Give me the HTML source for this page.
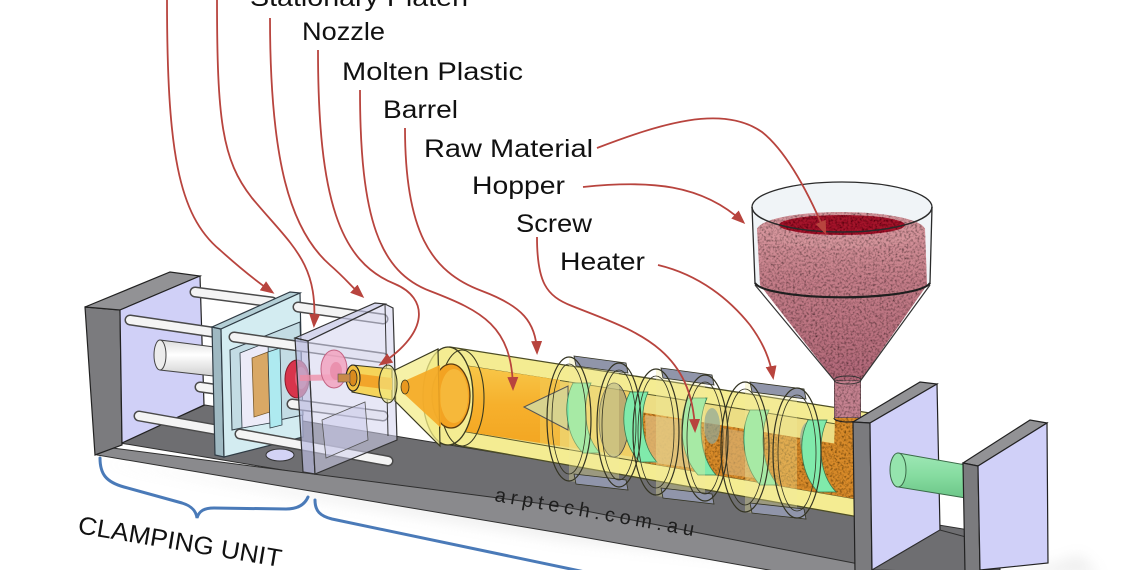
<!DOCTYPE html>
<html>
<head>
<meta charset="utf-8">
<style>
html,body{margin:0;padding:0;background:#ffffff;}
svg{display:block;}
</style>
</head>
<body>
<svg width="1140" height="570" viewBox="0 0 1140 570" xmlns="http://www.w3.org/2000/svg">
<defs>
  <marker id="ah" markerWidth="14" markerHeight="11" refX="11" refY="5.5" orient="auto" markerUnits="userSpaceOnUse">
    <path d="M0,0 L14,5.5 L0,11 Z" fill="#b8443e"/>
  </marker>
  <filter id="grain" x="0" y="0" width="100%" height="100%">
    <feTurbulence type="fractalNoise" baseFrequency="0.45" numOctaves="2" seed="5" result="n"/>
    <feColorMatrix in="n" type="matrix" values="0 0 0 0 0  0 0 0 0 0  0 0 0 0 0  0 0 0 -1.8 1.05" result="d"/>
    <feComposite in="d" in2="SourceGraphic" operator="in" result="t"/>
    <feMerge><feMergeNode in="SourceGraphic"/><feMergeNode in="t"/></feMerge>
  </filter>
  <filter id="blur6" x="-20%" y="-50%" width="140%" height="200%">
    <feGaussianBlur stdDeviation="7"/>
  </filter>
  <linearGradient id="pinkG" x1="0" y1="0" x2="0" y2="1">
    <stop offset="0" stop-color="#d6959c"/>
    <stop offset="0.35" stop-color="#c47d88"/>
    <stop offset="1" stop-color="#b16878"/>
  </linearGradient>
  <linearGradient id="moltenG" x1="0" y1="0" x2="0" y2="1">
    <stop offset="0" stop-color="#f8c84a"/>
    <stop offset="0.5" stop-color="#f6b02c"/>
    <stop offset="1" stop-color="#f3a622"/>
  </linearGradient>
  <linearGradient id="greenRod" x1="0" y1="0" x2="0" y2="1">
    <stop offset="0" stop-color="#9fe8b6"/>
    <stop offset="0.5" stop-color="#86dca0"/>
    <stop offset="1" stop-color="#6cc688"/>
  </linearGradient>
  <linearGradient id="cylG" x1="0" y1="0" x2="0" y2="1">
    <stop offset="0" stop-color="#dcdcdc"/>
    <stop offset="0.4" stop-color="#ffffff"/>
    <stop offset="1" stop-color="#cfcfcf"/>
  </linearGradient>
</defs>

<!-- shadow -->
<polygon points="100,462 560,540 900,575 1100,575 1080,555 1050,565 980,575" fill="#d0d0d0" opacity="0.35" filter="url(#blur6)"/>

<!-- base floor -->
<polygon points="120,443 205,405 1000,535 1000,570 885,570" fill="#6e6e71" stroke="#2e2e2e" stroke-width="1"/>
<!-- base front face -->
<polygon points="97,446 560,506 900,572 780,572 560,533 97,455" fill="#8a8a8d" stroke="#2e2e2e" stroke-width="1"/>

<!-- left end wall -->
<polygon points="85,307 120,310 122,445 95,455" fill="#7b7b7e" stroke="#222" stroke-width="1.2"/>
<polygon points="85,307 170,272 200,276 120,310" fill="#929295" stroke="#222" stroke-width="1.2"/>
<polygon points="120,310 200,276 204,405 122,443" fill="#d0d0f7" stroke="#222" stroke-width="1.2"/>

<!-- floor hole -->
<ellipse cx="280" cy="455" rx="14" ry="6" fill="#d3d3f5" stroke="#333" stroke-width="1"/>

<!-- rods left segments -->
<g stroke-linecap="round">
  <line x1="195" y1="292" x2="272" y2="302" stroke="#4a4a4a" stroke-width="11"/>
  <line x1="195" y1="292" x2="272" y2="302" stroke="#f4f4f4" stroke-width="8"/>
  <line x1="130" y1="320" x2="212" y2="332" stroke="#4a4a4a" stroke-width="11"/>
  <line x1="130" y1="320" x2="212" y2="332" stroke="#f4f4f4" stroke-width="8"/>
  <line x1="200" y1="387" x2="214" y2="389" stroke="#4a4a4a" stroke-width="11"/>
  <line x1="200" y1="387" x2="214" y2="389" stroke="#f4f4f4" stroke-width="8"/>
  <line x1="139" y1="416" x2="218" y2="430" stroke="#4a4a4a" stroke-width="11"/>
  <line x1="139" y1="416" x2="218" y2="430" stroke="#f4f4f4" stroke-width="8"/>
</g>
<!-- clamp cylinder -->
<polygon points="160,340 222,348 222,377 160,370" fill="url(#cylG)" stroke="#444" stroke-width="1"/>
<ellipse cx="160" cy="355" rx="6" ry="15" fill="#ececec" stroke="#444" stroke-width="1"/>

<!-- moving platen -->
<polygon points="212,327 221,329 224,457 215,455" fill="#9fb9c2" stroke="#2f3b44" stroke-width="1.2"/>
<polygon points="212,327 290,292 300,293 221,329" fill="#b4cfd6" stroke="#2f3b44" stroke-width="1.2"/>
<polygon points="221,329 300,293 303,437 224,457" fill="#d3ecf1" stroke="#2f3b44" stroke-width="1.2"/>
<!-- mold recess -->
<polygon points="230,350 300,322 303,415 232,430" fill="#c3dce4" stroke="#2f3b44" stroke-width="1"/>
<polygon points="240,353 268,342 270,423 242,428" fill="#ecebf8" stroke="#2f3b44" stroke-width="0.8"/>
<polygon points="252,358 268,352 270,412 254,417" fill="#d9a865" stroke="#7a5a2a" stroke-width="0.8"/>
<polygon points="268,352 280,348 282,425 270,428" fill="#aeeaf0" stroke="#2f3b44" stroke-width="0.8"/>

<!-- rods right segments -->
<g stroke-linecap="round">
  <line x1="298" y1="307" x2="383" y2="319" stroke="#4a4a4a" stroke-width="11"/>
  <line x1="298" y1="307" x2="383" y2="319" stroke="#f4f4f4" stroke-width="8"/>
  <line x1="234" y1="337" x2="383" y2="358" stroke="#4a4a4a" stroke-width="11"/>
  <line x1="234" y1="337" x2="383" y2="358" stroke="#f4f4f4" stroke-width="8"/>
  <line x1="292" y1="404" x2="383" y2="416" stroke="#4a4a4a" stroke-width="11"/>
  <line x1="292" y1="404" x2="383" y2="416" stroke="#f4f4f4" stroke-width="8"/>
  <line x1="240" y1="434" x2="388" y2="461" stroke="#4a4a4a" stroke-width="11"/>
  <line x1="240" y1="434" x2="388" y2="461" stroke="#f4f4f4" stroke-width="8"/>
</g>

<!-- molded red part -->
<ellipse cx="297" cy="379" rx="12" ry="19" fill="#d8354c" stroke="#8a1a2a" stroke-width="1"/>
<ellipse cx="301" cy="378" rx="6" ry="11" fill="#e86a80" opacity="0.8"/>

<!-- stationary platen (translucent) -->
<polygon points="295,338 375,303 385,304 308,341" fill="#c4c6e6" fill-opacity="0.7" stroke="#333" stroke-width="1.2"/>
<polygon points="295,338 308,341 315,474 303,472" fill="#b9bbdf" fill-opacity="0.7" stroke="#333" stroke-width="1.2"/>
<polygon points="308,341 385,304 393,308 397,440 315,474" fill="#d4d4ef" fill-opacity="0.55" stroke="#333" stroke-width="1.2"/>
<line x1="385" y1="304" x2="388" y2="436" stroke="#333" stroke-width="1"/>
<polygon points="322,420 365,402 368,440 326,458" fill="#c9c9ea" fill-opacity="0.5" stroke="#555" stroke-width="0.8"/>
<!-- pink cavity and sprue -->
<line x1="300" y1="378" x2="352" y2="377" stroke="#f08ca5" stroke-width="6" opacity="0.75"/>
<ellipse cx="334" cy="369" rx="13" ry="19" fill="#f2a3bf" fill-opacity="0.85" stroke="#c46484" stroke-width="1"/>
<ellipse cx="336" cy="371" rx="6" ry="9" fill="#e88aa8" fill-opacity="0.8"/>

<!-- barrel body -->
<polygon points="450,347 870,413 870,519 450,444" fill="#f4ec92" stroke="#4d4d25" stroke-width="1.3"/>
<!-- bore -->
<polygon points="455,364 862,428 862,500 455,430" fill="#ecdd84" stroke="#5a5a2a" stroke-width="1"/>
<!-- molten zone -->
<polygon points="455,364 560,380 560,446 455,430" fill="url(#moltenG)"/>
<polygon points="540,378 640,393 640,458 540,443" fill="#f2c752" opacity="0.6"/>
<!-- granular material -->
<polygon points="640,412 862,448 862,500 640,462" fill="#d98b2b" filter="url(#grain)"/>
<polygon points="645,415 690,421 692,468 647,462" fill="#dcb472" opacity="0.85"/>
<polygon points="722,428 752,433 754,478 724,474" fill="#d9b070" opacity="0.7"/>
<!-- screw root shading -->
<ellipse cx="614" cy="420" rx="15" ry="37" fill="#8f8f78" fill-opacity="0.55" stroke="#444" stroke-width="0.8"/>
<ellipse cx="712" cy="426" rx="8" ry="18" fill="#8fa89a" fill-opacity="0.7"/>
<ellipse cx="808" cy="440" rx="8" ry="18" fill="#8fa89a" fill-opacity="0.7"/>
<!-- screw tip -->
<polygon points="524,407 568,386 568,430" fill="#d8d38e" stroke="#555" stroke-width="1"/>
<!-- green flights -->
<g fill="#80eaab" stroke="#3a7a50" stroke-width="0.8">
  <path d="M573,383 C562,404 566,436 583,453 L600,453 C584,436 582,404 591,383 Z"/>
  <path d="M630,392 C619,413 623,445 640,462 L657,462 C641,445 639,413 648,392 Z"/>
  <path d="M688,398 C677,421 681,456 698,475 L716,475 C699,456 697,421 707,398 Z"/>
  <path d="M750,410 C739,432 743,466 760,485 L778,485 C761,466 759,432 769,410 Z"/>
  <path d="M808,420 C797,442 801,474 818,492 L836,492 C819,474 817,442 827,420 Z"/>
</g>

<!-- heater bands -->
<g stroke="#333322" stroke-width="1.2">
  <polygon points="569,357 619,363 619,487 569,481" fill="#f1ea9a" fill-opacity="0.35" stroke="none"/>
  <polygon points="574,356 626,363 628,373 576,366" fill="#9095aa" stroke-width="0.8"/>
  <polygon points="574,474 626,480 628,490 576,484" fill="#9095aa" stroke-width="0.8"/>
  <ellipse cx="569" cy="419" rx="22" ry="62" fill="none"/>
  <ellipse cx="569" cy="419" rx="17" ry="55" fill="none" stroke-width="0.8"/>
  <ellipse cx="619" cy="425" rx="22" ry="62" fill="none"/>
  <ellipse cx="619" cy="425" rx="17" ry="55" fill="none" stroke-width="0.8"/>

  <polygon points="656,369 705,375 705,502 656,496" fill="#f1ea9a" fill-opacity="0.35" stroke="none"/>
  <polygon points="661,368 712,375 714,385 663,378" fill="#9095aa" stroke-width="0.8"/>
  <polygon points="661,488 712,494 714,504 663,498" fill="#9095aa" stroke-width="0.8"/>
  <ellipse cx="656" cy="432" rx="23" ry="63" fill="none"/>
  <ellipse cx="656" cy="432" rx="18" ry="56" fill="none" stroke-width="0.8"/>
  <ellipse cx="705" cy="438" rx="23" ry="63" fill="none"/>
  <ellipse cx="705" cy="438" rx="18" ry="56" fill="none" stroke-width="0.8"/>

  <polygon points="745,383 797,389 797,518 745,512" fill="#f1ea9a" fill-opacity="0.35" stroke="none"/>
  <polygon points="750,382 804,389 806,399 752,392" fill="#9095aa" stroke-width="0.8"/>
  <polygon points="750,503 804,509 806,519 752,513" fill="#9095aa" stroke-width="0.8"/>
  <ellipse cx="745" cy="447" rx="24" ry="65" fill="none"/>
  <ellipse cx="745" cy="447" rx="19" ry="58" fill="none" stroke-width="0.8"/>
  <ellipse cx="797" cy="453" rx="24" ry="65" fill="none"/>
  <ellipse cx="797" cy="453" rx="19" ry="58" fill="none" stroke-width="0.8"/>
</g>

<!-- barrel left end -->
<ellipse cx="448" cy="396" rx="25" ry="49" fill="#f4ec92" stroke="#3a3a20" stroke-width="1.3"/>
<ellipse cx="462" cy="398" rx="22" ry="48" fill="none" stroke="#3a3a20" stroke-width="1.1"/>
<ellipse cx="451" cy="396" rx="19" ry="32" fill="#f3a322" stroke="#5a3a10" stroke-width="1.3"/>
<ellipse cx="454" cy="396" rx="14" ry="27" fill="#f6b83a"/>

<!-- cone -->
<polygon points="395,370 438,349 440,446 395,401" fill="#f3ec8a" fill-opacity="0.75" stroke="#3a3a20" stroke-width="1.2"/>
<polygon points="402,382 440,365 441,428 402,392" fill="#f5a824" opacity="0.9"/>
<ellipse cx="405" cy="387" rx="4" ry="7" fill="#e89820" stroke="#3a3a20" stroke-width="0.8"/>

<!-- nozzle -->
<polygon points="352,365 392,369 392,400 352,392" fill="#f5d45a" stroke="#3a3a20" stroke-width="1.1"/>
<polygon points="352,373 392,378 392,390 352,385" fill="#f2a52a"/>
<ellipse cx="388" cy="384" rx="9" ry="19" fill="#f3ec8a" fill-opacity="0.6" stroke="#3a3a20" stroke-width="1.1"/>
<ellipse cx="353" cy="378" rx="7" ry="13" fill="#f2c040" stroke="#222" stroke-width="1.1"/>
<ellipse cx="353" cy="378" rx="4" ry="8" fill="#d98b1e" stroke="#222" stroke-width="0.8"/>
<rect x="338" y="374" width="12" height="8" fill="#c88a48" stroke="#555" stroke-width="0.6"/>

<!-- hopper glass cylinder (back) -->
<path d="M752,207 A90,25 0 0 1 932,207 L930,283 A88,16 0 0 1 755,283 Z" fill="#dde6ee" fill-opacity="0.45" stroke="#2a2a2a" stroke-width="1.3"/>
<!-- pink material -->
<path d="M757,228 L760,285 L834,380 L861,380 L927,285 L925,228 Z" fill="url(#pinkG)" filter="url(#grain)"/>
<ellipse cx="841" cy="230" rx="84" ry="18" fill="#d5949b" filter="url(#grain)"/>
<ellipse cx="842" cy="225" rx="63" ry="10" fill="#a3192c" filter="url(#grain)"/>
<!-- neck -->
<rect x="834" y="380" width="27" height="38" fill="#c58290" stroke="#333" stroke-width="1" filter="url(#grain)"/>
<ellipse cx="847.5" cy="380" rx="13.5" ry="4" fill="none" stroke="#333" stroke-width="1"/>
<polygon points="835,418 860,418 862,450 834,450" fill="#d98b2b" filter="url(#grain)"/>
<!-- glass front lines -->
<path d="M752,207 A90,25 0 0 0 932,207" fill="none" stroke="#2a2a2a" stroke-width="1.5"/>
<path d="M755,283 A88,16 0 0 0 930,283" fill="none" stroke="#1f1f1f" stroke-width="2.2"/>
<line x1="755" y1="285" x2="834" y2="380" stroke="#333" stroke-width="1.2"/>
<line x1="930" y1="285" x2="861" y2="380" stroke="#333" stroke-width="1.2"/>
<path d="M834,418 A13.5,4 0 0 0 861,418" fill="none" stroke="#222" stroke-width="1.2"/>

<!-- right wall A -->
<polygon points="853,422 920,382 937,384 870,423" fill="#929295" stroke="#222" stroke-width="1.2"/>
<polygon points="853,422 870,423 872,572 855,572" fill="#7b7b7e" stroke="#222" stroke-width="1.2"/>
<polygon points="870,423 937,384 940,530 872,570" fill="#d0d0f8" stroke="#222" stroke-width="1.2"/>
<!-- floor between walls -->
<polygon points="872,570 940,530 966,537 966,572" fill="#6e6e71" stroke="#2e2e2e" stroke-width="1"/>
<!-- green rod -->
<polygon points="898,453 966,465 966,498 898,487" fill="url(#greenRod)" stroke="#3a6a48" stroke-width="1"/>
<ellipse cx="898" cy="470" rx="8" ry="17" fill="#95e4ad" stroke="#3a6a48" stroke-width="1"/>
<!-- right wall B -->
<polygon points="963,463 1030,420 1047,423 978,466" fill="#929295" stroke="#222" stroke-width="1.2"/>
<polygon points="963,463 978,466 980,572 965,572" fill="#7b7b7e" stroke="#222" stroke-width="1.2"/>
<polygon points="978,466 1047,423 1048,563 980,570" fill="#d0d0f8" stroke="#222" stroke-width="1.2"/>

<!-- watermark -->
<text x="494" y="501" transform="rotate(10 494 501)" font-family="Liberation Sans, sans-serif" font-size="20" fill="#1e1e1e" textLength="202" lengthAdjust="spacing">arptech.com.au</text>

<!-- arrows -->
<g fill="none" stroke="#b8443e" stroke-width="1.8" marker-end="url(#ah)">
  <path d="M167,-2 C167,150 178,215 220,250 C240,268 256,281 272,292"/>
  <path d="M217,-2 C217,120 222,160 252,198 C292,246 318,262 314,325"/>
  <path d="M270,18 C270,160 290,230 330,265 C345,278 352,287 362,296"/>
  <path d="M318,50 C318,200 340,262 395,284 C428,298 430,332 381,364"/>
  <path d="M360,90 C360,220 380,272 430,291 C482,311 512,326 513,388"/>
  <path d="M405,128 C405,230 430,272 482,291 C522,306 536,322 537,352"/>
  <path d="M537,237 C537,282 546,296 572,306 C632,330 692,346 695,430"/>
  <path d="M658,265 C700,275 730,300 750,325 C764,344 770,360 773,377"/>
  <path d="M597,148 C660,124 722,104 762,132 C787,152 808,192 825,232"/>
  <path d="M583,187 C650,180 702,184 743,222"/>
</g>

<!-- labels -->
<g font-family="Liberation Sans, sans-serif" font-size="25" fill="#111">
  <text x="250" y="6" textLength="218" lengthAdjust="spacingAndGlyphs">Stationary Platen</text>
  <text x="302" y="40" textLength="83" lengthAdjust="spacingAndGlyphs">Nozzle</text>
  <text x="342" y="80" textLength="181" lengthAdjust="spacingAndGlyphs">Molten Plastic</text>
  <text x="383" y="118" textLength="75" lengthAdjust="spacingAndGlyphs">Barrel</text>
  <text x="424" y="157" textLength="169" lengthAdjust="spacingAndGlyphs">Raw Material</text>
  <text x="472" y="194" textLength="93" lengthAdjust="spacingAndGlyphs">Hopper</text>
  <text x="516" y="232" textLength="76" lengthAdjust="spacingAndGlyphs">Screw</text>
  <text x="560" y="270" textLength="85" lengthAdjust="spacingAndGlyphs">Heater</text>
</g>

<!-- braces -->
<g fill="none" stroke="#4a7ab8" stroke-width="3" stroke-linecap="round">
  <path d="M100,458 C100,474 106,482 124,487 L182,503 C192,506 196,511 197,518 C199,511 204,508 214,508 L286,509 C299,509 305,504 308,497"/>
  <path d="M315,500 C315,511 320,516 332,519 L585,572"/>
</g>

<text x="77" y="533" transform="rotate(9.5 77 533)" font-family="Liberation Sans, sans-serif" font-size="25" fill="#111" textLength="206" lengthAdjust="spacingAndGlyphs">CLAMPING UNIT</text>
</svg>
</body>
</html>
